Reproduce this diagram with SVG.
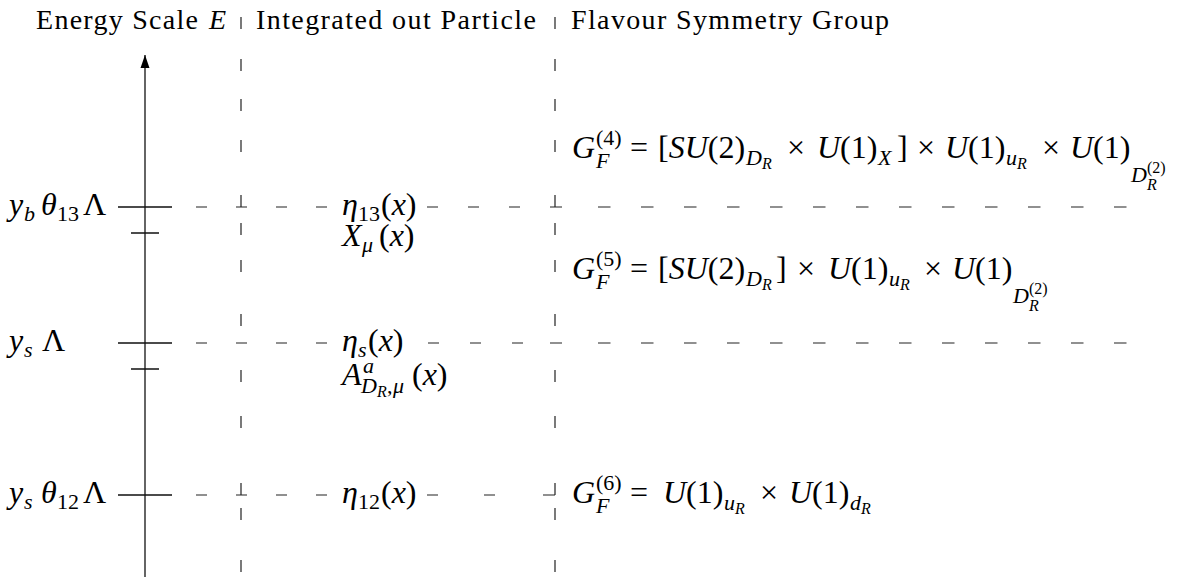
<svg xmlns="http://www.w3.org/2000/svg" width="1192" height="577" viewBox="0 0 1192 577" font-family="Liberation Serif, serif">
<style>
text{font-family:"Liberation Serif","Times New Roman",serif;fill:#000}
.h{font-size:28px}
.m{font-size:32px}
.i{font-style:italic}
.s{font-size:22px}
.ss{font-size:16px}
.ln{stroke:#111;stroke-width:1.3;fill:none}
.d{stroke:#222;stroke-width:1.2;fill:none}
</style>
<defs>
<marker id="arr" markerUnits="userSpaceOnUse" markerWidth="14" markerHeight="10" refX="13" refY="5" orient="auto">
<path d="M0,0.5 L13,5 L0,9.5 z" fill="#000"/>
</marker>
<path id="vd" d="M0,17v12M0,59v12M0,99v12M0,140v12M0,195v12M0,223v12M0,260v12M0,314v12M0,370v12M0,416v12M0,483v12M0,508v12M0,560v12"/>
</defs>

<g id="connectors">
<line class="ln" x1="145" y1="577" x2="145" y2="55" marker-end="url(#arr)"/>
<path class="ln" d="M118,207H172M131,233H159M118,343H172M131,369H159M118,495H172"/>
<use href="#vd" x="241" class="d"/>
<use href="#vd" x="555" class="d"/>
<path class="d" d="M196,207h11M236,207h11M276,207h11M316,207h11M427,207h11M468,207h11M509,207h11M550,207h12M598,207h12.5M641,207h12.5M684,207h12.5M727,207h12.5M770,207h12.5M813,207h12.5M856,207h12.5M899,207h12.5M942,207h12.5M985,207h12.5M1028,207h12.5M1071,207h12.5M1114,207h12.5"/>
<path class="d" d="M196,343h11M236,343h11M276,343h11M316,343h11M428,343h11M470,343h11M512,343h11M550,343h12M598,343h12.5M641,343h12.5M684,343h12.5M727,343h12.5M770,343h12.5M813,343h12.5M856,343h12.5M899,343h12.5M942,343h12.5M985,343h12.5M1028,343h12.5M1071,343h12.5M1114,343h12.5"/>
<path class="d" d="M196,495h11M236,495h11M276,495h11M316,495h11M427,495h11M484,495h11M543,495h12"/>
</g>

<g id="header">
<text class="h" x="36" y="29" textLength="162" lengthAdjust="spacing">Energy Scale</text>
<text class="h i" x="209" y="29">E</text>
<text class="h" x="256" y="29" textLength="280" lengthAdjust="spacing">Integrated out Particle</text>
<text class="h" x="571" y="29" textLength="318" lengthAdjust="spacing">Flavour Symmetry Group</text>
</g>

<g id="scale-1">
<text class="m"><tspan class="i" x="9" y="215">y</tspan><tspan class="s i" x="24" y="221">b</tspan><tspan class="i" x="41" y="215">θ</tspan><tspan class="s" x="57" y="221">13</tspan><tspan x="83" y="215">Λ</tspan></text>
</g>
<g id="scale-2">
<text class="m"><tspan class="i" x="9" y="351">y</tspan><tspan class="s i" x="24" y="357">s</tspan><tspan x="42" y="351">Λ</tspan></text>
</g>
<g id="scale-3">
<text class="m"><tspan class="i" x="9" y="503">y</tspan><tspan class="s i" x="24" y="509">s</tspan><tspan class="i" x="41" y="503">θ</tspan><tspan class="s" x="57" y="509">12</tspan><tspan x="83" y="503">Λ</tspan></text>
</g>

<g id="particle-1">
<text class="m"><tspan class="i" x="342" y="215">η</tspan><tspan class="s" x="358" y="221">13</tspan><tspan x="381" y="215">(</tspan><tspan class="i">x</tspan><tspan>)</tspan></text>
<text class="m"><tspan class="i" x="342" y="246">X</tspan><tspan class="s i" x="362" y="252">μ</tspan><tspan x="379" y="246">(</tspan><tspan class="i">x</tspan><tspan>)</tspan></text>
</g>
<g id="particle-2">
<text class="m"><tspan class="i" x="342" y="351">η</tspan><tspan class="s i" x="358" y="357">s</tspan><tspan x="368" y="351">(</tspan><tspan class="i">x</tspan><tspan>)</tspan></text>
<text class="m"><tspan class="i" x="342" y="385">A</tspan><tspan class="s i" x="363" y="373">a</tspan><tspan class="s i" x="361" y="393">D</tspan><tspan class="ss i" x="377" y="397">R</tspan><tspan class="s" x="387" y="393">,</tspan><tspan class="s i" x="393" y="393">μ</tspan><tspan x="412" y="385">(</tspan><tspan class="i">x</tspan><tspan>)</tspan></text>
</g>
<g id="particle-3">
<text class="m"><tspan class="i" x="342" y="503">η</tspan><tspan class="s" x="358" y="509">12</tspan><tspan x="381" y="503">(</tspan><tspan class="i">x</tspan><tspan>)</tspan></text>
</g>

<g id="group-4">
<text class="m"><tspan class="i" x="572" y="158">G</tspan><tspan class="s" x="596" y="145">(4)</tspan><tspan class="s i" x="596" y="168">F</tspan><tspan x="630" y="158">=</tspan><tspan x="658">[</tspan><tspan class="i">SU</tspan><tspan>(2)</tspan><tspan class="s i" x="746" y="165">D</tspan><tspan class="ss i" x="762" y="169">R</tspan><tspan x="787" y="158">×</tspan><tspan class="i" x="817">U</tspan><tspan>(1)</tspan><tspan class="s i" x="878" y="165">X</tspan><tspan x="897" y="158">]</tspan><tspan x="917">×</tspan><tspan class="i" x="945">U</tspan><tspan>(1)</tspan><tspan class="s i" x="1006" y="165">u</tspan><tspan class="ss i" x="1017" y="169">R</tspan><tspan x="1042" y="158">×</tspan><tspan class="i" x="1070">U</tspan><tspan>(1)</tspan><tspan class="s i" x="1131" y="182">D</tspan><tspan class="ss" x="1147" y="173">(2)</tspan><tspan class="ss i" x="1147" y="190">R</tspan></text>
</g>
<g id="group-5">
<text class="m"><tspan class="i" x="572" y="279">G</tspan><tspan class="s" x="596" y="266">(5)</tspan><tspan class="s i" x="596" y="289">F</tspan><tspan x="630" y="279">=</tspan><tspan x="658">[</tspan><tspan class="i">SU</tspan><tspan>(2)</tspan><tspan class="s i" x="746" y="286">D</tspan><tspan class="ss i" x="762" y="290">R</tspan><tspan x="776" y="279">]</tspan><tspan x="797">×</tspan><tspan class="i" x="828">U</tspan><tspan>(1)</tspan><tspan class="s i" x="889" y="286">u</tspan><tspan class="ss i" x="900" y="290">R</tspan><tspan x="924" y="279">×</tspan><tspan class="i" x="952">U</tspan><tspan>(1)</tspan><tspan class="s i" x="1013" y="303">D</tspan><tspan class="ss" x="1029" y="294">(2)</tspan><tspan class="ss i" x="1029" y="311">R</tspan></text>
</g>
<g id="group-6">
<text class="m"><tspan class="i" x="572" y="503">G</tspan><tspan class="s" x="596" y="490">(6)</tspan><tspan class="s i" x="596" y="513">F</tspan><tspan x="630" y="503">=</tspan><tspan class="i" x="663">U</tspan><tspan>(1)</tspan><tspan class="s i" x="724" y="510">u</tspan><tspan class="ss i" x="735" y="514">R</tspan><tspan x="760" y="503">×</tspan><tspan class="i" x="789">U</tspan><tspan>(1)</tspan><tspan class="s i" x="850" y="510">d</tspan><tspan class="ss i" x="861" y="514">R</tspan></text>
</g>
</svg>
